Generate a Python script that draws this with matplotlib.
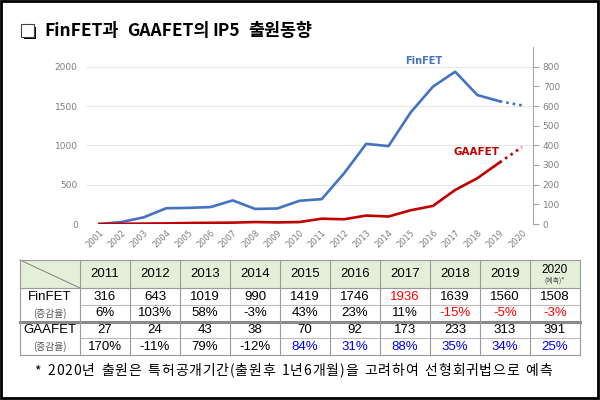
import matplotlib.pyplot as plt
from matplotlib.patches import Rectangle

# chart values
years = list(range(2001, 2021))
finfet = [0, 25, 85, 200, 205, 215, 300, 192, 197, 295,
          316, 643, 1019, 990, 1419, 1746, 1936, 1639, 1560, 1508]
gaafet = [0, 1, 2, 3, 5, 6, 7, 10, 8, 10,
          27, 24, 43, 38, 70, 92, 173, 233, 313, 391]

# table values
tab_years = ['2011', '2012', '2013', '2014', '2015', '2016', '2017', '2018', '2019', '2020']
fin_count = ['316', '643', '1019', '990', '1419', '1746', '1936', '1639', '1560', '1508']
fin_rate = ['6%', '103%', '58%', '-3%', '43%', '23%', '11%', '-15%', '-5%', '-3%']
gaa_count = ['27', '24', '43', '38', '70', '92', '173', '233', '313', '391']
gaa_rate = ['170%', '-11%', '79%', '-12%', '84%', '31%', '88%', '35%', '34%', '25%']
row_labels = ['FinFET', '(증감율)', 'GAAFET', '(증감율)']

title_words = ['FinFET과', 'GAAFET의', 'IP5', '출원동향']
note = '* 2020년 출원은 특허공개기간(출원후 1년6개월)을 고려하여 선형회귀법으로 예측'

KR = ['Noto Sans CJK KR', 'DejaVu Sans']
NUM = ['Liberation Sans Narrow', 'Liberation Sans', 'Noto Sans CJK KR']
BLUE = '#4472C4'
RED = '#C00000'
GRAY = '#7f7f7f'

fig = plt.figure(figsize=(6, 4), dpi=100)

# ---- line chart ----
ax = fig.add_axes([86 / 600, 1 - 224 / 400, (533 - 86) / 600, (224 - 47) / 400])
ax2 = ax.twinx()

ax.plot(years[:-1], finfet[:-1], color=BLUE, lw=1.9, zorder=3)
ax.plot(years[-2:], finfet[-2:], color=BLUE, lw=1.9, ls=(0, (1, 1.5)), zorder=3)
ax2.plot(years[:-1], gaafet[:-1], color=RED, lw=1.9, zorder=3)
ax2.plot(years[-2:], gaafet[-2:], color=RED, lw=1.9, ls=(0, (1, 1.5)), zorder=3)

ax.set_xlim(2000.4, 2020.5)
ax.set_ylim(0, 2250)
ax2.set_ylim(0, 900)
ax.set_yticks(range(0, 2001, 500))
ax2.set_yticks(range(0, 801, 100))
ax.set_xticks(years)
ax.set_xticklabels([str(y) for y in years], rotation=45, ha='right', va='top',
                   rotation_mode='anchor', fontsize=6, color=GRAY)
ax.tick_params(axis='x', length=0, pad=3)
ax.tick_params(axis='y', length=0, labelsize=6.5, labelcolor=GRAY, pad=6)
ax2.tick_params(axis='y', length=4, color='#a6a6a6', labelsize=6.5, labelcolor=GRAY, pad=3)
ax.grid(axis='y', color='#e6e6e6', lw=0.8)
for s in ['top', 'left', 'bottom', 'right']:
    ax.spines[s].set_visible(False)
for s in ['top', 'left', 'bottom']:
    ax2.spines[s].set_visible(False)
ax2.spines['right'].set_color('#a6a6a6')

ax.text(2015.6, 2076, 'FinFET', color=BLUE, fontsize=7, fontweight='bold',
        ha='center', va='center')
ax2.text(2017.95, 367, 'GAAFET', color=RED, fontsize=7.5, fontweight='bold',
         ha='center', va='center')

# ---- overlay for title, table, note ----
ov = fig.add_axes([0, 0, 1, 1], zorder=5)
ov.set_xlim(0, 600)
ov.set_ylim(400, 0)
ov.axis('off')
ov.patch.set_alpha(0)

ov.add_patch(Rectangle((1, 1), 597, 397, fill=False, ec='black', lw=2))

# title: shadowed square bullet and words
ov.add_patch(Rectangle((23.5, 26.5), 12.5, 12.5, fc='black', ec='none'))
ov.add_patch(Rectangle((21, 24), 12.5, 12.5, fc='white', ec='#444444', lw=0.8))
for x, w in zip([44, 127, 212, 248], title_words):
    ov.text(x, 31, w, fontsize=12.5, fontweight='bold', family=KR,
            va='center', ha='left')

# table
x0, cw, lw_ = 20, 50, 60
ys = [260, 288, 305, 322, 338, 355]
xr = x0 + lw_ + cw * len(tab_years)
ov.add_patch(Rectangle((x0, ys[0]), xr - x0, ys[1] - ys[0], fc='#E4EFD9', ec='none'))
ov.plot([x0, x0 + lw_], [ys[0], ys[1]], color='#808080', lw=0.7)

line_c = '#9a9a9a'
ov.plot([x0, xr], [ys[0], ys[0]], color=line_c, lw=0.8)
ov.plot([x0, xr], [ys[1], ys[1]], color=line_c, lw=0.8)
ov.plot([x0 + lw_, xr], [ys[2], ys[2]], color='#bdbdbd', lw=0.8)
ov.plot([x0, xr], [ys[3], ys[3]], color='#8a8a8a', lw=2.2)
ov.plot([x0 + lw_, xr], [ys[4], ys[4]], color='#bdbdbd', lw=0.8)
ov.plot([x0, xr], [ys[5], ys[5]], color=line_c, lw=0.8)
for i in range(len(tab_years) + 2):
    x = x0 if i == 0 else x0 + lw_ + cw * (i - 1)
    ov.plot([x, x], [ys[0], ys[5]], color=line_c, lw=0.8)

rows = [fin_count, fin_rate, gaa_count, gaa_rate]
red_cells = {(0, 6), (1, 7), (1, 8), (1, 9)}
blue_cells = {(3, j) for j in range(4, 10)}

for j, yr in enumerate(tab_years):
    cx = x0 + lw_ + cw * j + cw / 2
    if j == len(tab_years) - 1:
        ov.text(cx, 270, yr, fontsize=8.5, family=NUM, ha='center', va='center')
        ov.text(cx, 281, '(예측)*', fontsize=5, family=KR, color='#444444',
                ha='center', va='center')
    else:
        ov.text(cx, (ys[0] + ys[1]) / 2, yr, fontsize=9.5, family=NUM,
                ha='center', va='center')
    for r, vals in enumerate(rows):
        cy = (ys[r + 1] + ys[r + 2]) / 2
        c = 'black'
        if (r, j) in red_cells:
            c = 'red'
        elif (r, j) in blue_cells:
            c = '#0000ee'
        ov.text(cx, cy, vals[j], fontsize=9.5, family=NUM, color=c,
                ha='center', va='center')

for r, lab in enumerate(row_labels):
    cy = (ys[r + 1] + ys[r + 2]) / 2
    if lab.startswith('('):
        ov.text(x0 + lw_ / 2, cy, lab, fontsize=7, family=KR, color='#555555',
                ha='center', va='center')
    else:
        ov.text(x0 + lw_ / 2, cy, lab, fontsize=9.5, family=NUM,
                ha='center', va='center')

# footnote: characters tracked out over the same span as in the original
renderer = fig.canvas.get_renderer()
chars = list(note)
objs, widths = [], []
for ch in chars:
    if ch == ' ':
        objs.append(None)
        widths.append(5.0)
    else:
        t = ov.text(0, 371, ch, fontsize=10, family=KR, va='center', ha='left')
        objs.append(t)
        widths.append(t.get_window_extent(renderer).width)
left, right = 34, 552
track = (right - left - sum(widths)) / (len(chars) - 1)
x = left
for t, wd in zip(objs, widths):
    if t is not None:
        t.set_x(x)
    x += wd + track

fig.savefig('out.png', dpi=100)
